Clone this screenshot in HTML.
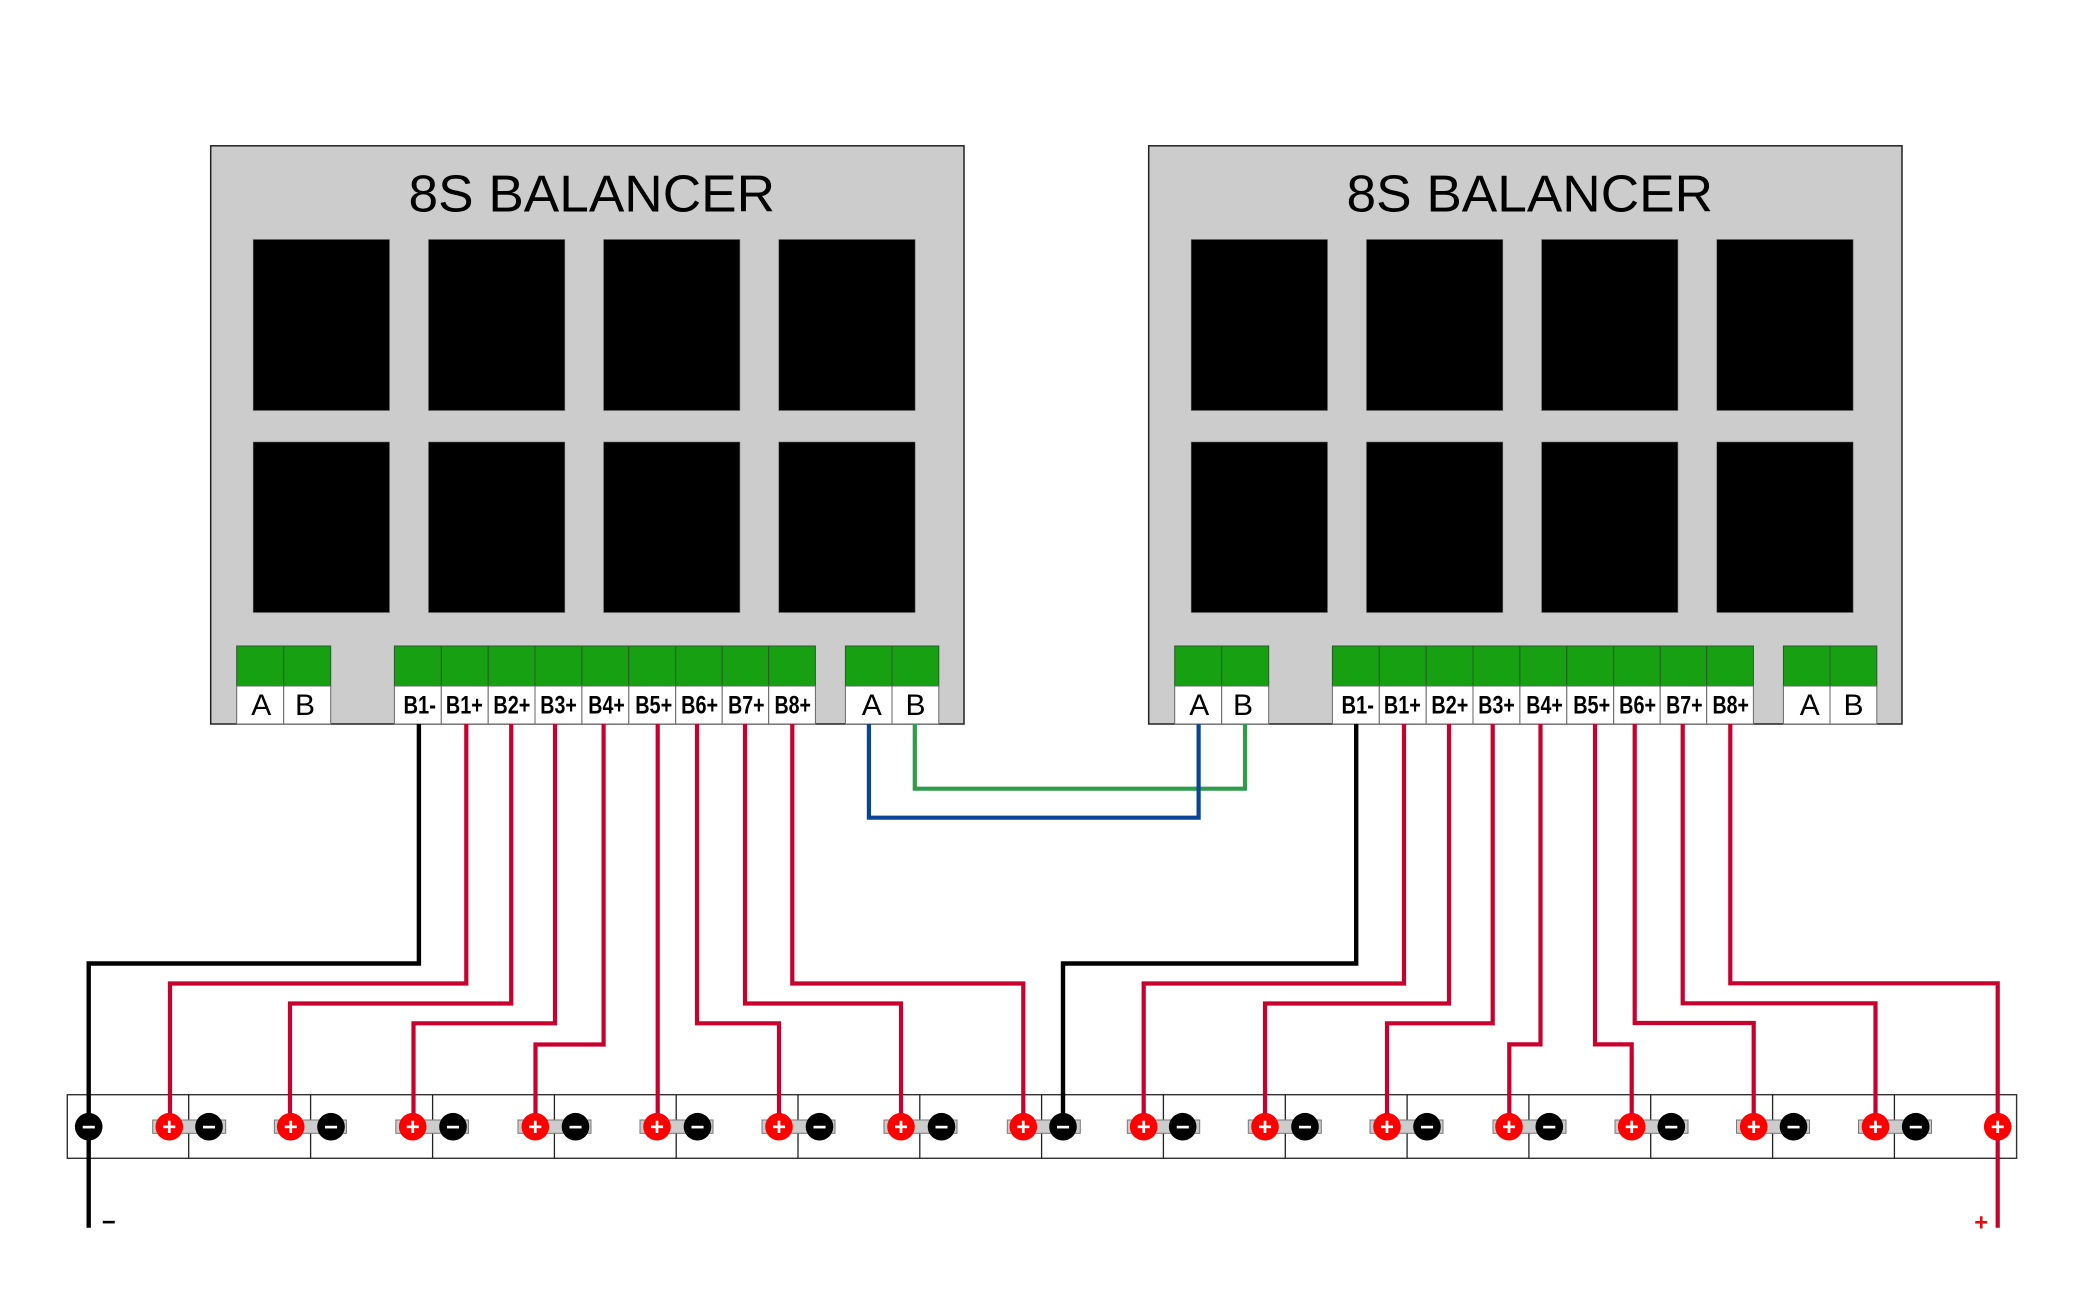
<!DOCTYPE html>
<html>
<head>
<meta charset="utf-8">
<title>8S Balancer Wiring</title>
<style>
html,body{margin:0;padding:0;background:#fff}
svg{display:block}
text{font-family:"Liberation Sans",Arial,sans-serif}
.t{font-size:52px;fill:#000}
.ab{font-size:30px;fill:#000;text-anchor:middle}
.b{font-size:25px;font-weight:bold;fill:#000}
.s{font-size:24px;font-weight:bold;fill:#fff;text-anchor:middle}
.w{fill:none;stroke-width:4.2;stroke-linejoin:miter}
.r{stroke:#c8002d}
.k{stroke:#000;stroke-width:4.4}
</style>
</head>
<body>
<svg width="2084" height="1313" viewBox="0 0 2084 1313" xmlns="http://www.w3.org/2000/svg">
<defs>
<g id="board">
<rect x="210.7" y="145.8" width="753.3" height="578.2" fill="#cccccc" stroke="#222" stroke-width="1.5"/>
<g fill="#000" stroke="#666" stroke-width="0.6">
<rect x="253.2" y="239.5" width="136.3" height="171"/>
<rect x="428.5" y="239.5" width="136.3" height="171"/>
<rect x="603.6" y="239.5" width="136.3" height="171"/>
<rect x="778.8" y="239.5" width="136.3" height="171"/>
<rect x="253.2" y="442" width="136.3" height="170.5"/>
<rect x="428.5" y="442" width="136.3" height="170.5"/>
<rect x="603.6" y="442" width="136.3" height="170.5"/>
<rect x="778.8" y="442" width="136.3" height="170.5"/>
</g>
<g fill="#17a112" stroke="#2a5a2a" stroke-width="1">
<rect x="236.7" y="646" width="47" height="40"/>
<rect x="283.7" y="646" width="47" height="40"/>
<rect x="394.4" y="646" width="46.9" height="40"/>
<rect x="441.3" y="646" width="46.9" height="40"/>
<rect x="488.2" y="646" width="46.9" height="40"/>
<rect x="535" y="646" width="46.9" height="40"/>
<rect x="581.9" y="646" width="46.9" height="40"/>
<rect x="628.8" y="646" width="46.9" height="40"/>
<rect x="675.7" y="646" width="46.5" height="40"/>
<rect x="722.2" y="646" width="46.5" height="40"/>
<rect x="768.7" y="646" width="46.7" height="40"/>
<rect x="845.4" y="646" width="46.6" height="40"/>
<rect x="892" y="646" width="46.8" height="40"/>
</g>
<g fill="#fff" stroke="#666" stroke-width="1">
<rect x="236.7" y="686" width="47" height="38"/>
<rect x="283.7" y="686" width="47" height="38"/>
<rect x="394.4" y="686" width="46.9" height="38"/>
<rect x="441.3" y="686" width="46.9" height="38"/>
<rect x="488.2" y="686" width="46.9" height="38"/>
<rect x="535" y="686" width="46.9" height="38"/>
<rect x="581.9" y="686" width="46.9" height="38"/>
<rect x="628.8" y="686" width="46.9" height="38"/>
<rect x="675.7" y="686" width="46.5" height="38"/>
<rect x="722.2" y="686" width="46.5" height="38"/>
<rect x="768.7" y="686" width="46.7" height="38"/>
<rect x="845.4" y="686" width="46.6" height="38"/>
<rect x="892" y="686" width="46.8" height="38"/>
</g>
</g>
</defs>

<use href="#board"/>
<use href="#board" x="938"/>

<!-- Board 1 text -->
<text class="t" x="408.5" y="211.5" textLength="366.5" lengthAdjust="spacingAndGlyphs">8S BALANCER</text>
<text class="ab" x="261.3" y="715">A</text>
<text class="ab" x="305" y="715">B</text>
<text class="b" x="403.5" y="713.5" textLength="32.5" lengthAdjust="spacingAndGlyphs">B1-</text>
<text class="b" x="445.9" y="713.5" textLength="37" lengthAdjust="spacingAndGlyphs">B1+</text>
<text class="b" x="493.4" y="713.5" textLength="37" lengthAdjust="spacingAndGlyphs">B2+</text>
<text class="b" x="540.3" y="713.5" textLength="36.5" lengthAdjust="spacingAndGlyphs">B3+</text>
<text class="b" x="588.3" y="713.5" textLength="36.5" lengthAdjust="spacingAndGlyphs">B4+</text>
<text class="b" x="635.2" y="713.5" textLength="37" lengthAdjust="spacingAndGlyphs">B5+</text>
<text class="b" x="681.1" y="713.5" textLength="37" lengthAdjust="spacingAndGlyphs">B6+</text>
<text class="b" x="728.1" y="713.5" textLength="36.5" lengthAdjust="spacingAndGlyphs">B7+</text>
<text class="b" x="774.5" y="713.5" textLength="36.5" lengthAdjust="spacingAndGlyphs">B8+</text>
<text class="ab" x="871.8" y="715">A</text>
<text class="ab" x="915.5" y="715">B</text>

<!-- Board 2 text -->
<text class="t" x="1346.5" y="211.5" textLength="366.5" lengthAdjust="spacingAndGlyphs">8S BALANCER</text>
<text class="ab" x="1199.3" y="715">A</text>
<text class="ab" x="1243" y="715">B</text>
<text class="b" x="1341.5" y="713.5" textLength="32.5" lengthAdjust="spacingAndGlyphs">B1-</text>
<text class="b" x="1383.9" y="713.5" textLength="37" lengthAdjust="spacingAndGlyphs">B1+</text>
<text class="b" x="1431.4" y="713.5" textLength="37" lengthAdjust="spacingAndGlyphs">B2+</text>
<text class="b" x="1478.3" y="713.5" textLength="36.5" lengthAdjust="spacingAndGlyphs">B3+</text>
<text class="b" x="1526.3" y="713.5" textLength="36.5" lengthAdjust="spacingAndGlyphs">B4+</text>
<text class="b" x="1573.2" y="713.5" textLength="37" lengthAdjust="spacingAndGlyphs">B5+</text>
<text class="b" x="1619.1" y="713.5" textLength="37" lengthAdjust="spacingAndGlyphs">B6+</text>
<text class="b" x="1666.1" y="713.5" textLength="36.5" lengthAdjust="spacingAndGlyphs">B7+</text>
<text class="b" x="1712.5" y="713.5" textLength="36.5" lengthAdjust="spacingAndGlyphs">B8+</text>
<text class="ab" x="1809.8" y="715">A</text>
<text class="ab" x="1853.5" y="715">B</text>

<!-- Battery cells -->
<rect x="67.3" y="1094.7" width="1949.3" height="63.6" fill="#fff" stroke="#333" stroke-width="1.4"/>
<g stroke="#222" stroke-width="1.3">
<line x1="188.7" y1="1094.7" x2="188.7" y2="1158.3"/>
<line x1="310.6" y1="1094.7" x2="310.6" y2="1158.3"/>
<line x1="432.6" y1="1094.7" x2="432.6" y2="1158.3"/>
<line x1="554.4" y1="1094.7" x2="554.4" y2="1158.3"/>
<line x1="676.2" y1="1094.7" x2="676.2" y2="1158.3"/>
<line x1="798" y1="1094.7" x2="798" y2="1158.3"/>
<line x1="919.8" y1="1094.7" x2="919.8" y2="1158.3"/>
<line x1="1041.6" y1="1094.7" x2="1041.6" y2="1158.3"/>
<line x1="1163.4" y1="1094.7" x2="1163.4" y2="1158.3"/>
<line x1="1285.3" y1="1094.7" x2="1285.3" y2="1158.3"/>
<line x1="1407.1" y1="1094.7" x2="1407.1" y2="1158.3"/>
<line x1="1528.9" y1="1094.7" x2="1528.9" y2="1158.3"/>
<line x1="1650.7" y1="1094.7" x2="1650.7" y2="1158.3"/>
<line x1="1772.6" y1="1094.7" x2="1772.6" y2="1158.3"/>
<line x1="1894.4" y1="1094.7" x2="1894.4" y2="1158.3"/>
</g>

<!-- Bus bars -->
<g fill="#cccccc" stroke="#777" stroke-width="1">
<rect x="152.7" y="1120" width="73" height="13.3"/>
<rect x="274.4" y="1120" width="72" height="13.3"/>
<rect x="395.8" y="1120" width="72.6" height="13.3"/>
<rect x="518" y="1120" width="73" height="13.3"/>
<rect x="640" y="1120" width="73" height="13.3"/>
<rect x="762" y="1120" width="73" height="13.3"/>
<rect x="884" y="1120" width="73" height="13.3"/>
<rect x="1007.3" y="1120" width="73" height="13.3"/>
<rect x="1127.3" y="1120" width="72.4" height="13.3"/>
<rect x="1248.3" y="1120" width="73" height="13.3"/>
<rect x="1370" y="1120" width="73" height="13.3"/>
<rect x="1493" y="1120" width="73" height="13.3"/>
<rect x="1615" y="1120" width="73" height="13.3"/>
<rect x="1736.5" y="1120" width="73" height="13.3"/>
<rect x="1858.5" y="1120" width="73" height="13.3"/>
</g>

<!-- AB link wires -->
<path class="w" stroke="#2f9c4b" d="M914.8 724V788.7H1245V724"/>
<path class="w" stroke="#0a4595" d="M868.9 724V817.7H1198.6V724"/>

<!-- Board 1 wires -->
<path class="w k" d="M418.9 724V963.5H88.7V1227.7"/>
<path class="w r" d="M466.3 724V983.5H170V1127"/>
<path class="w r" d="M511.2 724V1003.5H290V1127"/>
<path class="w r" d="M555 724V1023.3H413.5V1127"/>
<path class="w r" d="M603.6 724V1044.5H535.5V1127"/>
<path class="w r" d="M657.7 724V1127"/>
<path class="w r" d="M697 724V1023.3H779V1127"/>
<path class="w r" d="M745 724V1003.5H901V1127"/>
<path class="w r" d="M792.3 724V983.5H1023.3V1127"/>

<!-- Board 2 wires -->
<path class="w k" d="M1356.2 724V963.5H1063V1127"/>
<path class="w r" d="M1404 724V983.5H1143.7V1127"/>
<path class="w r" d="M1449 724V1003.5H1265V1127"/>
<path class="w r" d="M1492.7 724V1023.3H1387V1127"/>
<path class="w r" d="M1540.5 724V1044.4H1509.3V1127"/>
<path class="w r" d="M1595 724V1044.4H1631.7V1127"/>
<path class="w r" d="M1634.7 724V1023H1753.7V1127"/>
<path class="w r" d="M1682.7 724V1003.3H1875.5V1127"/>
<path class="w r" d="M1730.3 724V983.3H1997.7V1227.7"/>

<!-- Terminals -->
<g fill="#000">
<circle cx="88.7" cy="1126.7" r="13.8"/>
<circle cx="209" cy="1126.7" r="13.8"/>
<circle cx="331" cy="1126.7" r="13.8"/>
<circle cx="453" cy="1126.7" r="13.8"/>
<circle cx="575.5" cy="1126.7" r="13.8"/>
<circle cx="697.5" cy="1126.7" r="13.8"/>
<circle cx="819.5" cy="1126.7" r="13.8"/>
<circle cx="941.5" cy="1126.7" r="13.8"/>
<circle cx="1063" cy="1126.7" r="13.8"/>
<circle cx="1182.7" cy="1126.7" r="13.8"/>
<circle cx="1305" cy="1126.7" r="13.8"/>
<circle cx="1427" cy="1126.7" r="13.8"/>
<circle cx="1549.3" cy="1126.7" r="13.8"/>
<circle cx="1671.3" cy="1126.7" r="13.8"/>
<circle cx="1793.5" cy="1126.7" r="13.8"/>
<circle cx="1915.7" cy="1126.7" r="13.8"/>
</g>
<g fill="#ff0000">
<circle cx="169.3" cy="1126.7" r="13.8"/>
<circle cx="290.7" cy="1126.7" r="13.8"/>
<circle cx="412.7" cy="1126.7" r="13.8"/>
<circle cx="535.3" cy="1126.7" r="13.8"/>
<circle cx="657" cy="1126.7" r="13.8"/>
<circle cx="779" cy="1126.7" r="13.8"/>
<circle cx="901" cy="1126.7" r="13.8"/>
<circle cx="1023.3" cy="1126.7" r="13.8"/>
<circle cx="1143.7" cy="1126.7" r="13.8"/>
<circle cx="1265" cy="1126.7" r="13.8"/>
<circle cx="1387" cy="1126.7" r="13.8"/>
<circle cx="1509" cy="1126.7" r="13.8"/>
<circle cx="1631.7" cy="1126.7" r="13.8"/>
<circle cx="1753.7" cy="1126.7" r="13.8"/>
<circle cx="1875.5" cy="1126.7" r="13.8"/>
<circle cx="1997.7" cy="1126.7" r="13.8"/>
</g>
<g>
<text class="s" x="88.7" y="1135">−</text>
<text class="s" x="209" y="1135">−</text>
<text class="s" x="331" y="1135">−</text>
<text class="s" x="453" y="1135">−</text>
<text class="s" x="575.5" y="1135">−</text>
<text class="s" x="697.5" y="1135">−</text>
<text class="s" x="819.5" y="1135">−</text>
<text class="s" x="941.5" y="1135">−</text>
<text class="s" x="1063" y="1135">−</text>
<text class="s" x="1182.7" y="1135">−</text>
<text class="s" x="1305" y="1135">−</text>
<text class="s" x="1427" y="1135">−</text>
<text class="s" x="1549.3" y="1135">−</text>
<text class="s" x="1671.3" y="1135">−</text>
<text class="s" x="1793.5" y="1135">−</text>
<text class="s" x="1915.7" y="1135">−</text>
<text class="s" x="169.3" y="1135">+</text>
<text class="s" x="290.7" y="1135">+</text>
<text class="s" x="412.7" y="1135">+</text>
<text class="s" x="535.3" y="1135">+</text>
<text class="s" x="657" y="1135">+</text>
<text class="s" x="779" y="1135">+</text>
<text class="s" x="901" y="1135">+</text>
<text class="s" x="1023.3" y="1135">+</text>
<text class="s" x="1143.7" y="1135">+</text>
<text class="s" x="1265" y="1135">+</text>
<text class="s" x="1387" y="1135">+</text>
<text class="s" x="1509" y="1135">+</text>
<text class="s" x="1631.7" y="1135">+</text>
<text class="s" x="1753.7" y="1135">+</text>
<text class="s" x="1875.5" y="1135">+</text>
<text class="s" x="1997.7" y="1135">+</text>
</g>

<!-- End labels -->
<text x="108.7" y="1230" font-size="24" font-weight="bold" fill="#000" text-anchor="middle">−</text>
<text x="1981.3" y="1230.5" font-size="24" font-weight="bold" fill="#e01010" text-anchor="middle">+</text>
</svg>
</body>
</html>
